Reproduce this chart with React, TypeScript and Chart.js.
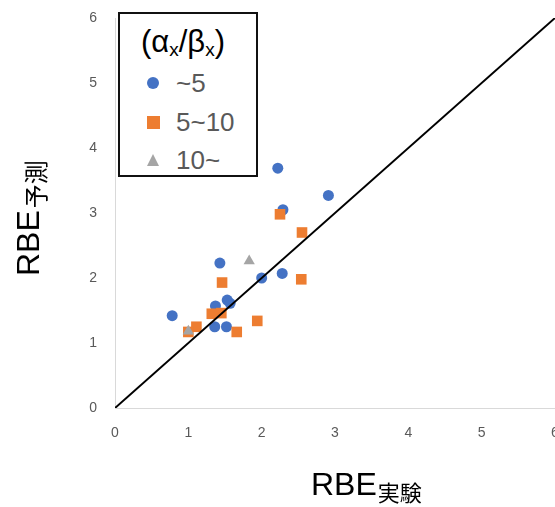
import React, { useEffect, useRef } from "react";
import { Chart, registerables } from "chart.js";

Chart.register(...registerables);

// ~5 series (blue circles)
const blueX = [2.22, 2.91, 2.29, 1.43, 2.0, 2.28, 0.78, 1.37, 1.53, 1.57, 1.36, 1.52];
const blueY = [3.69, 3.27, 3.05, 2.23, 2.0, 2.07, 1.42, 1.57, 1.66, 1.61, 1.25, 1.25];
// 5~10 series (orange squares)
const orangeX = [2.25, 2.55, 1.46, 2.54, 1.32, 1.45, 1.94, 1.66, 1.11, 1.0];
const orangeY = [2.98, 2.7, 1.93, 1.98, 1.45, 1.46, 1.34, 1.17, 1.25, 1.17];
// 10~ series (gray triangles)
const grayX = [1.83, 1.0];
const grayY = [2.26, 1.18];
// identity line
const lineX = [0, 6];
const lineY = [0, 6];

const seriesNames = ["~5", "5~10", "10~"];
const xTicks = [0, 1, 2, 3, 4, 5, 6];
const yTicks = [0, 1, 2, 3, 4, 5, 6];

const BLUE = "#4472C4";
const ORANGE = "#ED7D31";
const GRAY = "#A5A5A5";
const TXT = "#595959";

const pts = (xs: number[], ys: number[]) => xs.map((x, i) => ({ x, y: ys[i] }));

export default function App() {
  const ref = useRef<HTMLCanvasElement | null>(null);

  useEffect(() => {
    document.body.style.margin = "0";
    if (!ref.current) return;
    const chart = new Chart(ref.current, {
      type: "scatter",
      data: {
        datasets: [
          {
            label: "line",
            data: pts(lineX, lineY),
            showLine: true,
            borderColor: "#000",
            borderWidth: 2,
            pointRadius: 0,
            order: 0,
          },
          {
            label: seriesNames[2],
            data: pts(grayX, grayY),
            pointStyle: "triangle",
            pointRadius: 6.5,
            backgroundColor: GRAY,
            borderColor: GRAY,
            borderWidth: 0,
            order: 1,
          },
          {
            label: seriesNames[1],
            data: pts(orangeX, orangeY),
            pointStyle: "rect",
            pointRadius: 7.5,
            backgroundColor: ORANGE,
            borderColor: ORANGE,
            borderWidth: 0,
            order: 2,
          },
          {
            label: seriesNames[0],
            data: pts(blueX, blueY),
            pointStyle: "circle",
            pointRadius: 5.5,
            backgroundColor: BLUE,
            borderColor: BLUE,
            borderWidth: 0,
            order: 3,
          },
        ],
      },
      options: {
        animation: false,
        responsive: false,
        layout: { autoPadding: false, padding: { top: 18, left: 0, right: 0, bottom: 0 } },
        plugins: { legend: { display: false }, tooltip: { enabled: false } },
        scales: {
          x: {
            type: "linear",
            min: 0,
            max: 6,
            afterBuildTicks: (s: any) => {
              s.ticks = xTicks.map((v) => ({ value: v }));
            },
            afterFit: (s: any) => {
              s.height = 99;
              s.paddingLeft = 0;
              s.paddingRight = 0;
            },
            ticks: {
              color: TXT,
              font: { family: "Liberation Sans", size: 14 },
              padding: 17,
            },
            grid: { display: false, drawTicks: false },
            border: { display: true, color: "#D9D9D9", width: 1 },
          },
          y: {
            type: "linear",
            min: 0,
            max: 6,
            afterBuildTicks: (s: any) => {
              s.ticks = yTicks.map((v) => ({ value: v }));
            },
            afterFit: (s: any) => {
              s.width = 115;
              s.paddingTop = 0;
              s.paddingBottom = 0;
            },
            ticks: {
              color: TXT,
              font: { family: "Liberation Sans", size: 14 },
              padding: 18,
            },
            grid: { display: false, drawTicks: false },
            border: { display: true, color: "#D9D9D9", width: 1 },
          },
        },
      },
    });
    return () => chart.destroy();
  }, []);

  const itemText: React.CSSProperties = {
    position: "absolute",
    left: 56,
    fontFamily: "Liberation Sans, Arial, sans-serif",
    fontSize: 26,
    color: TXT,
    lineHeight: "26px",
    whiteSpace: "nowrap",
  };

  return (
    <div style={{ position: "relative", width: 555, height: 507, overflow: "hidden", background: "#fff" }}>
      <canvas ref={ref} width={555} height={507} style={{ position: "absolute", left: 0, top: 0, width: 555, height: 507 }} />
      {/* Legend */}
      <div
        style={{
          position: "absolute",
          left: 118,
          top: 12,
          width: 140,
          height: 165,
          boxSizing: "border-box",
          border: "2px solid #111",
          background: "#fff",
        }}
      >
        <div
          style={{
            position: "absolute",
            left: 21,
            top: 11,
            fontFamily: "Liberation Sans, Arial, sans-serif",
            fontSize: 31,
            lineHeight: "34px",
            color: "#000",
            whiteSpace: "nowrap",
          }}
        >
          (α<sub style={{ fontSize: 19, verticalAlign: -4 }}>x</sub>/β<sub style={{ fontSize: 19, verticalAlign: -4 }}>x</sub>)
        </div>
        <div style={{ position: "absolute", left: 27, top: 63, width: 12, height: 12, borderRadius: 6, background: BLUE }} />
        <div style={{ ...itemText, top: 56 }}>{seriesNames[0]}</div>
        <div style={{ position: "absolute", left: 27, top: 102, width: 13, height: 13, background: ORANGE }} />
        <div style={{ ...itemText, top: 95 }}>{seriesNames[1]}</div>
        <div
          style={{
            position: "absolute",
            left: 27,
            top: 140,
            width: 0,
            height: 0,
            borderLeft: "6.5px solid transparent",
            borderRight: "6.5px solid transparent",
            borderBottom: "12px solid " + GRAY,
          }}
        />
        <div style={{ ...itemText, top: 133 }}>{seriesNames[2]}</div>
      </div>
      {/* X axis title */}
      <div
        style={{
          position: "absolute",
          left: 311,
          top: 466,
          fontFamily: "Liberation Sans, Arial, sans-serif",
          fontSize: 32,
          lineHeight: "36px",
          color: "#000",
          whiteSpace: "nowrap",
        }}
      >
        RBE
        <span style={{ fontFamily: "Noto Sans CJK JP", fontSize: 22, position: "relative", top: 6, marginLeft: 1 }}>実験</span>
      </div>
      {/* Y axis title */}
      <div
        style={{
          position: "absolute",
          left: 10,
          top: 276,
          transformOrigin: "0 0",
          transform: "rotate(-90deg)",
          fontFamily: "Liberation Sans, Arial, sans-serif",
          fontSize: 32,
          lineHeight: "36px",
          color: "#000",
          whiteSpace: "nowrap",
        }}
      >
        RBE
        <span style={{ fontFamily: "Noto Sans CJK JP", fontSize: 24, position: "relative", top: 6, marginLeft: 2 }}>予測</span>
      </div>
    </div>
  );
}
